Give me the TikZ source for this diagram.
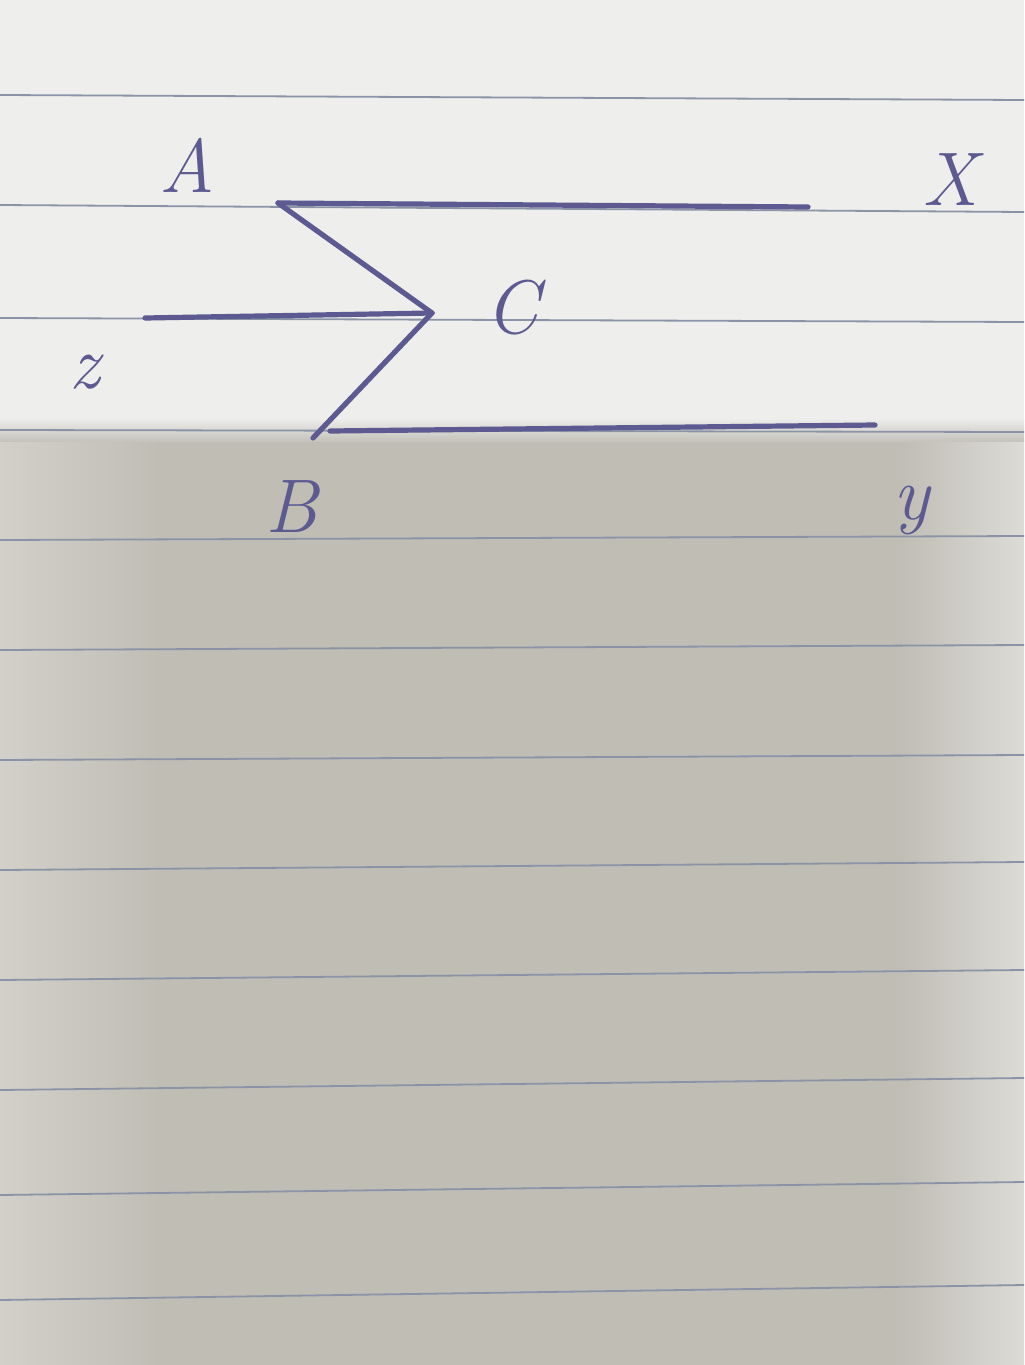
\documentclass[tikz,border=0pt]{standalone}
\begin{document}
\begin{tikzpicture}[x=0.5pt,y=-0.5pt,
  ink/.style={draw=inkc,line width=2.6pt,line cap=round,line join=round},
  rule/.style={draw=rulec,line width=0.9pt},
  lbl/.style={text=inkc,font=\fontsize{38}{38}\selectfont\itshape,inner sep=0pt}]
\definecolor{inkc}{HTML}{5C5A90}
\definecolor{rulec}{HTML}{8A94A6}
\definecolor{paper}{HTML}{EEEEEC}
\definecolor{shadeL}{HTML}{D2D0C9}
\definecolor{shadeM}{HTML}{C0BDB5}
\definecolor{shadeR}{HTML}{DCDBD6}
\useasboundingbox (0,0) rectangle (1024,1365);
% paper and shadow
\fill[paper] (0,0) rectangle (1024,1365);
\shade[left color=shadeL,right color=shadeM] (0,440) rectangle (160,1365);
\fill[shadeM] (159,440) rectangle (901,1365);
\shade[left color=shadeM,right color=shadeR] (900,440) rectangle (1024,1365);
\shade[top color=paper,bottom color=shadeM!70!shadeL] (0,418) rectangle (1024,441);
% ruled lines
\foreach \ya/\yb in {95/100,205/212,318/322,430/432,540/536,650/645,760/755,870/862,980/970,1090/1078,1195/1182,1300/1285}
  \draw[rule] (0,\ya) -- (1024,\yb);
% points
\coordinate (A) at (278,203);
\coordinate (X) at (808,207);
\coordinate (C) at (432,313);
\coordinate (Z) at (145,318);
\coordinate (B) at (313,438);
\coordinate (Bs) at (330,431);
\coordinate (Y) at (875,425);
% strokes
\draw[ink] (A) -- (X);
\draw[ink] (A) -- (C);
\draw[ink] (Z) -- (C);
\draw[ink] (C) -- (B);
\draw[ink] (Bs) -- (Y);
% labels
\node[lbl] (lA) at (187,165) {A};
\node[lbl] (lX) at (950,180) {X};
\node[lbl] (lC) at (512,308) {C};
\node[lbl] (lZ) at (85,372) {z};
\node[lbl] (lB) at (292,507) {B};
\node[lbl] (lY) at (912,510) {y};
\end{tikzpicture}
\end{document}
